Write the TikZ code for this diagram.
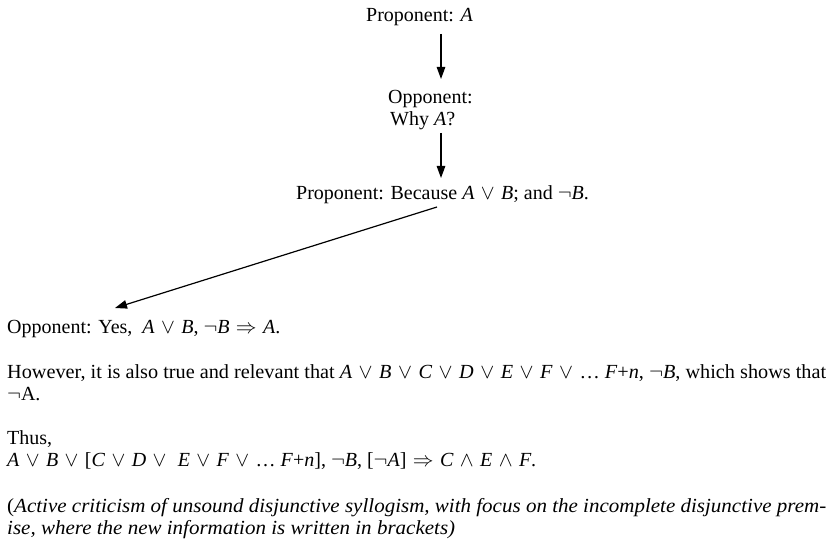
\documentclass[tikz,border=0pt]{standalone}
\usepackage{fontspec}
\usepackage{graphicx}
\setmainfont{Liberation Serif}
\usetikzlibrary{arrows.meta}
\newcommand{\opsp}{\hspace{0.32em}}
\newcommand{\myor}{\opsp\ensuremath{\vee}\opsp}
\newcommand{\myand}{\opsp\ensuremath{\wedge}\opsp}
\newcommand{\mynot}{\ensuremath{\neg}}
\newcommand{\myimp}{\opsp\ensuremath{\Rightarrow}\opsp}
\newcommand{\iA}{\textit{A}}
\newcommand{\iB}{\textit{B}}
\newsavebox{\acbox}
\newsavebox{\isbox}
\begin{document}
\sbox{\acbox}{\fontsize{20}{22}\selectfont(\textit{Active criticism of unsound disjunctive syllogism, with focus on the incomplete disjunctive prem-}}
\sbox{\isbox}{\fontsize{20}{22}\selectfont\textit{ise, where the new information is written in brackets)}}
\begin{tikzpicture}[x=1pt,y=-1pt,
  txt/.style={anchor=base west, inner sep=0pt, font=\fontsize{20}{22}\selectfont},
  arr/.style={-{Triangle[length=12pt,width=8.5pt]}, line width=1.2pt}]
\useasboundingbox (0,0) rectangle (833,559);
\pgfmathsetmacro{\acscale}{819/\wd\acbox}

\node[txt] (pa) at (366,22) {Proponent: \iA};
\node[txt] (op) at (388,104) {Opponent:};
\node[txt] (why) at (390,126) {Why \iA?};
\node[txt] (pb) at (296,200) {Proponent: Because \iA\myor\iB; and \mynot\iB.};
\node[txt] (oy) at (7,333) {Opponent: Yes,\ \ \iA\myor\iB, \mynot\iB\myimp\iA.};
\node[txt] (hw) at (7,378) {\resizebox{819pt}{\height}{However, it is also true and relevant that \iA\myor\iB\myor\textit{C}\myor\textit{D}\myor\textit{E}\myor\textit{F}\myor… \textit{F}+\textit{n}, \mynot\iB, which shows that}};
\node[txt] (na) at (7,400) {\mynot A.};
\node[txt] (th) at (7,444) {Thus,};
\node[txt] (fm) at (7,466) {\iA\myor\iB\myor[\textit{C}\myor\textit{D}\myor\ \textit{E}\myor\textit{F}\myor… \textit{F}+\textit{n}], \mynot\iB, [\mynot\iA]\myimp\textit{C}\myand\textit{E}\myand\textit{F}.};
\node[txt] (ac) at (7,512) {\scalebox{\acscale}[1]{\usebox{\acbox}}};
\node[txt] (is) at (7,534) {\scalebox{\acscale}[1]{\usebox{\isbox}}};

\coordinate (a1s) at (441,34);
\coordinate (a1e) at (441,79);
\coordinate (a2s) at (441,133);
\coordinate (a2e) at (441,178);
\coordinate (a3s) at (437,207);
\coordinate (a3e) at (115,308);
\draw[arr] (a1s) -- (a1e);
\draw[arr] (a2s) -- (a2e);
\draw[arr] (a3s) -- (a3e);
\end{tikzpicture}
\end{document}
